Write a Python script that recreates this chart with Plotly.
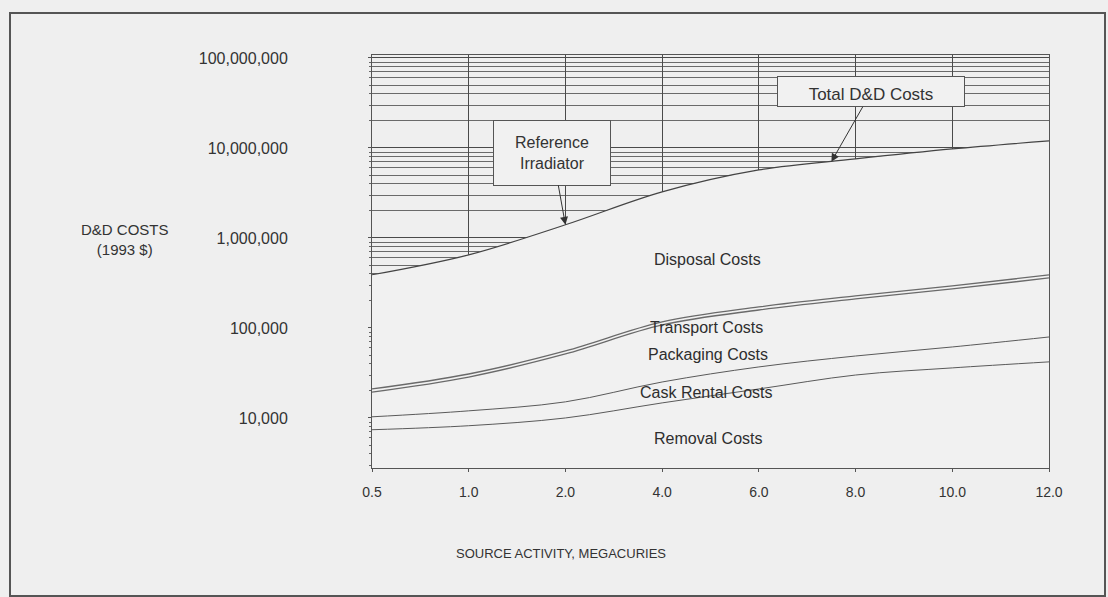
import numpy as np
import plotly.graph_objects as go

# ---- data ----
activity = ["0.5", "1.0", "2.0", "4.0", "6.0", "8.0", "10.0", "12.0"]
removal = [7400, 8200, 10000, 14700, 21000, 30000, 36000, 42000]
cask_rental = [2900, 3800, 5100, 10400, 15900, 18800, 25500, 37400]
packaging = [9100, 16500, 36300, 82900, 121500, 161200, 209700, 279900]
transport = [1600, 2300, 4100, 8600, 12700, 16800, 21700, 28700]
disposal = [369000, 619000, 1345000, 3133000, 5529000, 7323000, 9457000, 11612000]
y_ticks = [1e4, 1e5, 1e6, 1e7, 1e8]
y_tick_text = ["10,000", "100,000", "1,000,000", "10,000,000", "100,000,000"]

# cumulative (stacked) levels
lvl_removal = np.array(removal, dtype=float)
lvl_cask = lvl_removal + np.array(cask_rental)
lvl_pack = lvl_cask + np.array(packaging)
lvl_trans = lvl_pack + np.array(transport)
lvl_total = lvl_trans + np.array(disposal)

BG = "#efefef"
FILL = "#f1f1f1"
INK = "#333333"
GRID = "#4a4a4a"
NARROW = "Liberation Sans Narrow, Arial Narrow, Liberation Sans, Arial"

W, H = 1108, 597
L, R, T, B = 372, 1049, 55, 468


def px(x):
    return (x - L) / (R - L)


def py(y):
    return (B - y) / (B - T)


fig = go.Figure()
SPL = dict(shape="spline", smoothing=1.0)

# total D&D line with opaque fill hiding the grid below it
fig.add_trace(go.Scatter(x=activity, y=lvl_total, mode="lines", fill="tozeroy",
                         fillcolor=FILL, line=dict(color="#444444", width=1.2, **SPL),
                         name="Total D&D Costs"))
fig.add_trace(go.Scatter(x=activity, y=lvl_trans, mode="lines",
                         line=dict(color="#6a6a6a", width=1.3, **SPL), name="Transport"))
fig.add_trace(go.Scatter(x=activity, y=lvl_pack, mode="lines",
                         line=dict(color="#6a6a6a", width=1.3, **SPL), name="Packaging"))
fig.add_trace(go.Scatter(x=activity, y=lvl_cask, mode="lines",
                         line=dict(color="#5a5a5a", width=1.0, **SPL), name="Cask Rental"))
fig.add_trace(go.Scatter(x=activity, y=lvl_removal, mode="lines",
                         line=dict(color="#5a5a5a", width=1.0, **SPL), name="Removal"))

fig.update_layout(
    width=W, height=H, autosize=False,
    margin=dict(l=L, r=W - R, t=T, b=H - B, pad=0),
    paper_bgcolor=BG, plot_bgcolor=BG, showlegend=False,
    font=dict(family="Liberation Sans, Arial, sans-serif", color=INK, size=14),
)

fig.update_xaxes(
    type="category", range=[0, 7], showgrid=True, gridcolor=GRID, gridwidth=1,
    showline=True, linecolor="#555555", linewidth=1, mirror=True,
    ticks="outside", ticklen=3, tickcolor="#555555", zeroline=False,
    tickfont=dict(family=NARROW, size=14, color=INK),
    ticklabelstandoff=8,
)

fig.update_yaxes(
    type="log", range=[3.444, 8.033],
    tickvals=y_ticks, ticktext=y_tick_text,
    showgrid=True, gridcolor=GRID, gridwidth=0.8,
    showline=True, linecolor="#555555", linewidth=1, mirror=True,
    ticks="outside", ticklen=3, tickcolor="#555555", zeroline=False,
    tickfont=dict(size=16, color=INK), ticklabelstandoff=77,
    minor=dict(dtick="D1", showgrid=True, gridcolor="#6a6a6a", gridwidth=0.6,
               ticks="outside", ticklen=2, tickcolor="#666666"),
)

ann = []
# y axis title
ann.append(dict(xref="paper", yref="paper", x=px(125), y=py(239), xanchor="center", yanchor="middle",
                text="D&amp;D COSTS<br>(1993 $)", showarrow=False,
                font=dict(size=15, color=INK), align="center"))
# x axis title
ann.append(dict(xref="paper", yref="paper", x=px(561), y=py(553), xanchor="center", yanchor="middle",
                text="SOURCE ACTIVITY, MEGACURIES", showarrow=False,
                font=dict(family=NARROW, size=13, color=INK)))

# in-plot cost labels
for txt, cx, cy in [("Disposal Costs", 707, 259), ("Transport Costs", 706, 327),
                    ("Packaging Costs", 708, 354), ("Cask Rental Costs", 706, 392),
                    ("Removal Costs", 708, 438)]:
    ann.append(dict(xref="paper", yref="paper", x=px(cx), y=py(cy), text=txt, showarrow=False,
                    xanchor="center", yanchor="middle", font=dict(size=16, color="#2e2e2e")))

# callout boxes with arrows
ann.append(dict(x=2, y=float(np.log10(lvl_total[2])), xref="x", yref="y",
                text="Reference<br>Irradiator", showarrow=True, arrowhead=2, arrowsize=1.6,
                arrowwidth=1, arrowcolor="#333333", ax=-13, ay=-72,
                bgcolor=FILL, bordercolor="#555555", borderwidth=1, borderpad=4,
                width=108, height=56, font=dict(size=16, color=INK)))
t_idx = 4.75
t_val = float(np.interp(t_idx, np.arange(len(activity)), np.log10(lvl_total)))
ann.append(dict(x=t_idx, y=t_val, xref="x", yref="y",
                text="Total D&amp;D Costs", showarrow=True, arrowhead=2, arrowsize=1.6,
                arrowwidth=1, arrowcolor="#333333", ax=40, ay=-70,
                bgcolor=FILL, bordercolor="#555555", borderwidth=1, borderpad=2,
                width=182, height=25, valign="bottom", font=dict(size=17, color=INK)))

fig.update_layout(annotations=ann)

# outer frame of the figure
fig.add_shape(type="rect", xref="paper", yref="paper",
              x0=px(10), x1=px(1105), y0=py(596), y1=py(13),
              line=dict(color="#555555", width=2), layer="below")

fig.write_html("out.html", config={"displayModeBar": False},
               post_script="document.body.style.margin='0';document.body.style.background='#efefef';")
